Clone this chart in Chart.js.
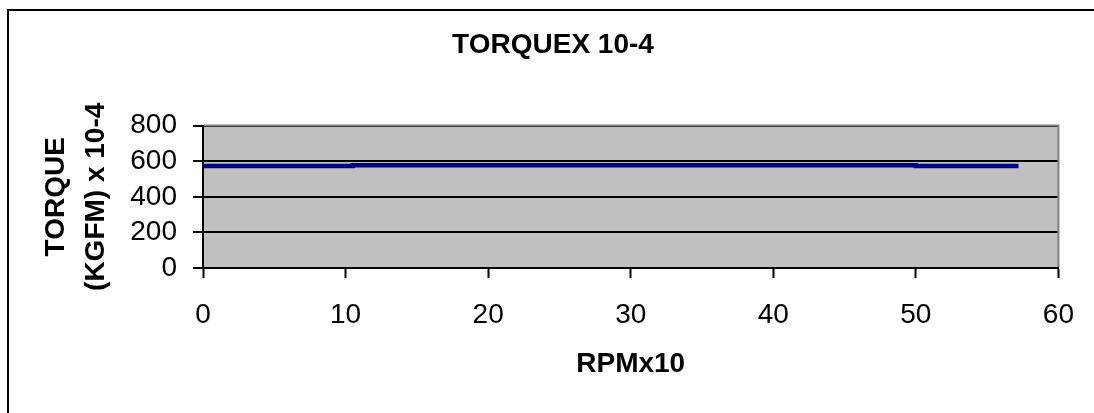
<!DOCTYPE html>
<html>
<head>
<meta charset="utf-8">
<title>TORQUEX 10-4</title>
<script src="https://cdn.jsdelivr.net/npm/chart.js@4.4.1/dist/chart.umd.min.js"></script>
<style>
    html, body { margin: 0; padding: 0; background: #ffffff; }
    #wrap { width: 1094px; height: 413px; position: relative; }
</style>
</head>
<body>
<div id="wrap"><canvas id="torqueChart"></canvas></div>
<script>
// Данные
const rpm = [0, 10.5, 10.5, 50, 50, 57.2];
const torque = [573, 573, 577, 577, 573, 573];
const xTicks = [0, 10, 20, 30, 40, 50, 60];
const yTicks = [0, 200, 400, 600, 800];

const FONT = "'Liberation Sans', Arial, sans-serif";

// Серый фон области построения, рамка вокруг всей диаграммы
const framePlugin = {
    id: 'frame',
    beforeDraw(chart) {
        const ctx = chart.ctx;
        const a = chart.chartArea;
        ctx.save();
        ctx.fillStyle = '#ffffff';
        ctx.fillRect(0, 0, chart.width, chart.height);
        ctx.strokeStyle = '#000000';
        ctx.lineWidth = 2;
        ctx.strokeRect(8, 10, 1110, 420);
        ctx.fillStyle = '#C0C0C0';
        ctx.fillRect(a.left, a.top, a.right - a.left, a.bottom - a.top);
        ctx.restore();
    },
    beforeDatasetsDraw(chart) {
        const ctx = chart.ctx;
        const a = chart.chartArea;
        ctx.save();
        ctx.strokeStyle = '#808080';
        ctx.lineWidth = 2;
        ctx.beginPath();
        ctx.moveTo(a.left + 1, a.top);
        ctx.lineTo(a.right, a.top);
        ctx.lineTo(a.right, a.bottom - 1);
        ctx.stroke();
        ctx.restore();
    }
};

document.addEventListener('DOMContentLoaded', function() {
    const points = rpm.map((x, i) => ({ x: x, y: torque[i] }));

    new Chart(document.getElementById('torqueChart'), {
        type: 'line',
        data: {
            datasets: [{
                label: 'Torque',
                data: points,
                borderColor: '#000080',
                borderWidth: 4.5,
                pointRadius: 0,
                tension: 0,
                fill: false
            }]
        },
        options: {
            responsive: true,
            maintainAspectRatio: false,
            animation: false,
            layout: { padding: { left: 45, right: 33, top: 0, bottom: 0 } },
            plugins: {
                legend: { display: false },
                tooltip: { enabled: false },
                title: {
                    display: true,
                    text: 'TORQUEX 10-4',
                    color: '#000000',
                    font: { family: FONT, size: 28, weight: 'bold', lineHeight: 1.2 },
                    padding: { top: 28, bottom: 64 }
                }
            },
            scales: {
                x: {
                    type: 'linear',
                    min: 0,
                    max: 60,
                    afterBuildTicks(scale) { scale.ticks = xTicks.map(v => ({ value: v })); },
                    afterFit(scale) { scale.height = 145; },
                    grid: {
                        drawOnChartArea: false,
                        drawTicks: true,
                        tickLength: 10,
                        tickColor: '#000000',
                        tickWidth: 2
                    },
                    border: { display: true, color: '#000000', width: 2 },
                    ticks: {
                        color: '#000000',
                        padding: 20,
                        autoSkip: false,
                        maxRotation: 0,
                        font: { family: FONT, size: 28 }
                    },
                    title: {
                        display: true,
                        text: 'RPMx10',
                        color: '#000000',
                        font: { family: FONT, size: 28, weight: 'bold', lineHeight: 1.2 },
                        padding: { top: 0, bottom: 32 }
                    }
                },
                y: {
                    type: 'linear',
                    min: 0,
                    max: 800,
                    afterBuildTicks(scale) { scale.ticks = yTicks.map(v => ({ value: v })); },
                    afterFit(scale) { scale.width = 158; },
                    grid: {
                        color: '#000000',
                        lineWidth: 2,
                        drawTicks: true,
                        tickLength: 10,
                        tickColor: '#000000',
                        tickWidth: 2
                    },
                    border: { display: true, color: '#000000', width: 2 },
                    ticks: {
                        color: '#000000',
                        padding: 16,
                        autoSkip: false,
                        font: { family: FONT, size: 28 }
                    },
                    title: {
                        display: true,
                        text: ['TORQUE', '(KGFM) x 10-4'],
                        color: '#000000',
                        font: { family: FONT, size: 28, weight: 'bold', lineHeight: 1.43 },
                        padding: { top: -9, bottom: 0 }
                    }
                }
            }
        },
        plugins: [framePlugin]
    });
});
</script>
</body>
</html>
